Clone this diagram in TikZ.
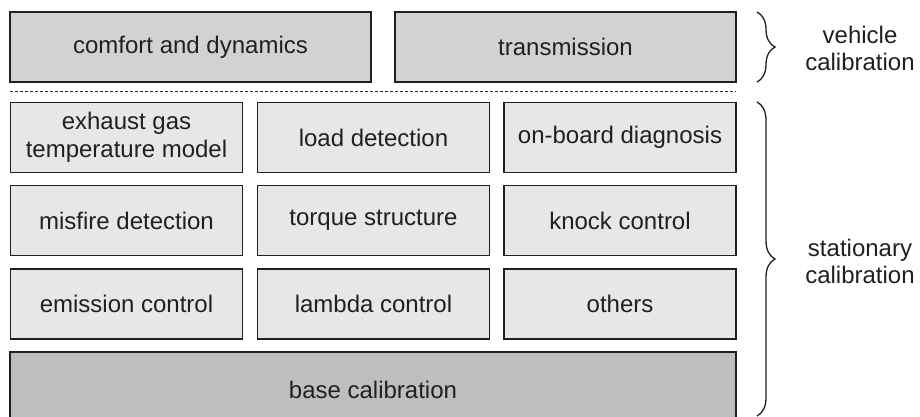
\documentclass[tikz,border=0pt]{standalone}
\usepackage{fontspec}
\setmainfont{Liberation Sans}
\usetikzlibrary{decorations.pathreplacing}
\definecolor{edgec}{HTML}{231F20}
\definecolor{txtc}{HTML}{231F20}
\definecolor{topfill}{HTML}{D1D2D4}
\definecolor{midfill}{HTML}{E6E7E8}
\definecolor{basefill}{HTML}{BCBEC0}
\tikzset{
  blk/.style={draw=edgec, line width=1.8pt, inner sep=0pt, align=center,
    text=txtc, font=\fontsize{24}{28}\selectfont, minimum height=70pt},
  topblk/.style={blk, fill=topfill},
  midblk/.style={blk, fill=midfill, minimum width=232pt},
  baseblk/.style={blk, fill=basefill},
  bracec/.style={draw=edgec, line width=1.3pt, decorate,
    decoration={brace, amplitude=18pt}},
  lbl/.style={align=center, text=txtc, font=\fontsize{24}{27}\selectfont, inner sep=0pt},
  sepline/.style={draw=edgec, line width=0.9pt, dash pattern=on 3pt off 2pt}
}
\begin{document}
\begin{tikzpicture}[x=1pt,y=-1pt]
\useasboundingbox (0,0) rectangle (920,417);
% top row
\node[topblk, minimum width=361pt] (comfort) at (190.5,47) {comfort and dynamics};
\node[topblk, minimum width=341pt] (trans) at (565.5,47) {transmission};
% separator
\coordinate (sepL) at (10,91);
\coordinate (sepR) at (736,91);
\draw[sepline] (sepL) -- (sepR);
% grid
\node[midblk] (exhaust) at (126.5,137.5) {exhaust gas\\temperature model};
\node[midblk] (load) at (373.5,137.5) {load detection};
\node[midblk] (obd) at (620,137.5) {on-board diagnosis};
\node[midblk] (misfire) at (126.5,220.5) {misfire detection};
\node[midblk] (torque) at (373.5,220.5) {torque structure};
\node[midblk] (knock) at (620,220.5) {knock control};
\node[midblk] (emission) at (126.5,304) {emission control};
\node[midblk] (lambda) at (373.5,304) {lambda control};
\node[midblk] (others) at (620,304) {others};
% base
\node[baseblk, minimum width=726pt, minimum height=76pt] (base) at (373,390) {base calibration};
% braces
\coordinate (b1t) at (757,12);
\coordinate (b1b) at (757,82);
\coordinate (b2t) at (757,102);
\coordinate (b2b) at (757,416);
\draw[bracec] (b1t) -- (b1b);
\draw[bracec] (b2t) -- (b2b);
\node[lbl] (vehicle) at (860,48) {vehicle\\calibration};
\node[lbl] (stationary) at (860,261) {stationary\\calibration};
\end{tikzpicture}
\end{document}
